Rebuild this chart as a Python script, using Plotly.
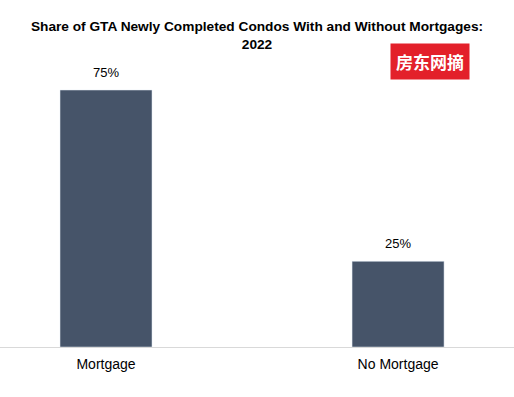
import plotly.graph_objects as go

categories = ["Mortgage", "No Mortgage"]
shares = [75, 25]
labels = ["75%", "25%"]

fig = go.Figure(go.Bar(
    x=categories, y=shares,
    marker_color="#465469", width=0.315,
))

for c, v, t in zip(categories, shares, labels):
    fig.add_annotation(
        x=c, y=v, text=t, showarrow=False, yanchor="bottom", yshift=8,
        font=dict(family="Arial, Liberation Sans", size=13, color="#000000"),
    )

fig.update_layout(
    width=514, height=397,
    margin=dict(l=0, r=0, t=40, b=50),
    paper_bgcolor="white", plot_bgcolor="white",
    title=dict(
        text="<b>Share of GTA Newly Completed Condos With and Without Mortgages:<br>2022</b>",
        x=0.5, xanchor="center", y=1 - 31 / 397, yanchor="top",
        font=dict(family="Arial, Liberation Sans", size=13.7, color="#000000"),
    ),
    xaxis=dict(
        range=[-0.363, 1.397], showline=True, linecolor="#d9d9d9", linewidth=1,
        tickfont=dict(family="Arial, Liberation Sans", size=14, color="#000000"),
        ticks="", showgrid=False, automargin=False, ticklabelstandoff=4,
    ),
    yaxis=dict(range=[0, 89.6], visible=False, showgrid=False),
    showlegend=False,
)

fig.add_annotation(
    text="<b>房东网摘</b>", xref="paper", yref="paper",
    x=430 / 514, y=1 - (61 - 40) / 307, xanchor="center", yanchor="middle",
    showarrow=False, bgcolor="#e3202a", borderpad=5,
    font=dict(family="Noto Sans CJK SC", size=17, color="white"),
)

fig.write_html("out.html", config={"displayModeBar": False},
               post_script="document.body.style.margin='0';")
